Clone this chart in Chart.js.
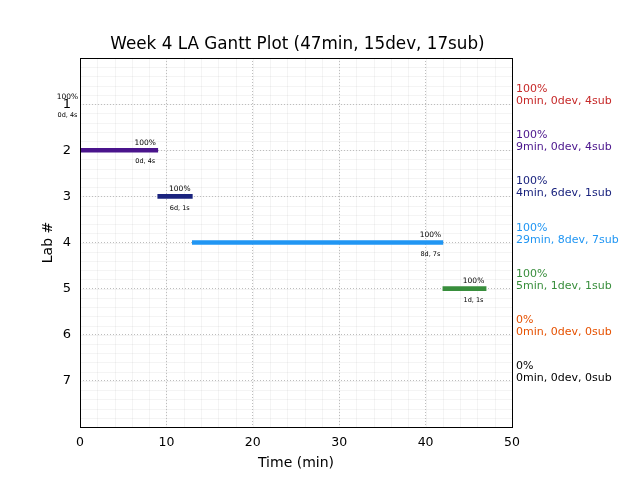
<!DOCTYPE html>
<html>
<head>
<meta charset="utf-8">
<script src="https://cdn.jsdelivr.net/npm/chart.js@4/dist/chart.umd.min.js"></script>
<style>
html,body{margin:0;padding:0;background:#fff;}
#wrap{width:640px;height:480px;position:relative;}
</style>
</head>
<body>
<div id="wrap"><canvas id="c" width="640" height="480"></canvas></div>
<script>
// ---- data ----
const labs = [1, 2, 3, 4, 5, 6, 7];
const startMin = [0, 0, 9, 13, 42, 47, 47];
const minutes = [0, 9, 4, 29, 5, 0, 0];
const devs = [0, 0, 6, 8, 1, 0, 0];
const subs = [4, 4, 1, 7, 1, 0, 0];
const pct = [100, 100, 100, 100, 100, 0, 0];
const labColors = ['#c62828', '#4a148c', '#1a237e', '#2196f3', '#388e3c', '#e65100', '#000000'];
const xTicks = [0, 10, 20, 30, 40, 50];
const yTickLabels = ['1', '2', '3', '4', '5', '6', '7'];
const titleText = 'Week 4 LA Gantt Plot (47min, 15dev, 17sub)';
const xTitle = 'Time (min)';
const yTitle = 'Lab #';

const FONT = "'DejaVu Sans', sans-serif";

// Only labs with progress get a bar
const shown = labs.map((l, i) => i).filter(i => pct[i] > 0);
const barData = shown.map(i => ({ x: [startMin[i], startMin[i] + minutes[i]], y: labs[i] }));
const barColors = shown.map(i => labColors[i]);

const minorGrid = {
  id: 'minorGrid',
  beforeDraw(chart) {
    const { ctx, chartArea: a, scales: { x, y } } = chart;
    ctx.save();
    ctx.strokeStyle = 'rgba(0,0,0,0.045)';
    ctx.lineWidth = 1;
    for (let v = 0; v <= 50; v += 2) {
      const px = Math.round(x.getPixelForValue(v)) + 0.5;
      ctx.beginPath(); ctx.moveTo(px, a.top); ctx.lineTo(px, a.bottom); ctx.stroke();
    }
    for (let k = 0; k <= 40; k++) {
      const py = Math.round(y.getPixelForValue(k * 0.2)) + 0.5;
      ctx.beginPath(); ctx.moveTo(a.left, py); ctx.lineTo(a.right, py); ctx.stroke();
    }
    ctx.restore();
  }
};

const annotations = {
  id: 'annotations',
  afterDatasetsDraw(chart) {
    const { ctx, chartArea: a, scales: { x, y } } = chart;
    ctx.save();
    // frame
    ctx.strokeStyle = '#000';
    ctx.lineWidth = 1;
    ctx.strokeRect(Math.round(a.left) + 0.5, Math.round(a.top) + 0.5,
      Math.round(a.right - a.left), Math.round(a.bottom - a.top));
    // title
    ctx.fillStyle = '#000';
    ctx.textAlign = 'center';
    ctx.textBaseline = 'middle';
    ctx.font = '16.8px ' + FONT;
    ctx.fillText(titleText, (a.left + a.right) / 2 + 1.5, a.top - 13);
    // bar labels
    shown.forEach(i => {
      const end = startMin[i] + minutes[i];
      const cx = x.getPixelForValue(end - 1.45);
      ctx.font = '7.5px ' + FONT;
      ctx.fillText(pct[i] + '%', cx, y.getPixelForValue(labs[i] - 0.16));
      ctx.font = '6.5px ' + FONT;
      ctx.fillText(devs[i] + 'd, ' + subs[i] + 's', cx, y.getPixelForValue(labs[i] + 0.25));
    });
    // right-side summaries
    ctx.textAlign = 'left';
    ctx.font = '11px ' + FONT;
    labs.forEach((l, i) => {
      ctx.fillStyle = labColors[i];
      const tx = a.right + 4;
      ctx.fillText(pct[i] + '%', tx, y.getPixelForValue(l - 0.32));
      ctx.fillText(minutes[i] + 'min, ' + devs[i] + 'dev, ' + subs[i] + 'sub', tx, y.getPixelForValue(l - 0.06));
    });
    ctx.restore();
  }
};

new Chart(document.getElementById('c'), {
  type: 'bar',
  data: {
    datasets: [{
      data: barData,
      backgroundColor: barColors,
      borderWidth: 0,
      barThickness: 4
    }]
  },
  options: {
    indexAxis: 'y',
    responsive: false,
    animation: false,
    events: [],
    layout: { padding: { left: 0, right: 128, top: 58, bottom: 0 } },
    plugins: {
      legend: { display: false },
      tooltip: { enabled: false },
      title: { display: false }
    },
    scales: {
      x: {
        type: 'linear',
        min: 0, max: 50,
        offset: false,
        afterBuildTicks: s => { s.ticks = xTicks.map(v => ({ value: v })); },
        afterFit: s => { s.height = 53; },
        ticks: { color: '#000', font: { family: FONT, size: 12.5 }, padding: 8, maxRotation: 0 },
        grid: { color: '#bdbdbd', lineWidth: 1, drawTicks: false, offset: false },
        border: { display: false, dash: [1, 2] },
        title: { display: true, text: xTitle, color: '#000', font: { family: FONT, size: 14 }, padding: { top: 0, bottom: 8 } }
      },
      y: {
        type: 'linear',
        reverse: true,
        min: 0, max: 8,
        offset: false,
        afterBuildTicks: s => { s.ticks = [0, 1, 2, 3, 4, 5, 6, 7, 8].map(v => ({ value: v })); },
        afterFit: s => { s.width = 80; },
        ticks: {
          color: '#000', font: { family: FONT, size: 13 }, padding: 9,
          callback: v => (v >= 1 && v <= 7) ? yTickLabels[v - 1] : ''
        },
        grid: { color: '#bdbdbd', lineWidth: 1, drawTicks: false, offset: false },
        border: { display: false, dash: [1, 2] },
        title: { display: true, text: yTitle, color: '#000', font: { family: FONT, size: 14 }, padding: { top: 39.6, bottom: 0 } }
      }
    }
  },
  plugins: [minorGrid, annotations]
});
</script>
</body>
</html>
